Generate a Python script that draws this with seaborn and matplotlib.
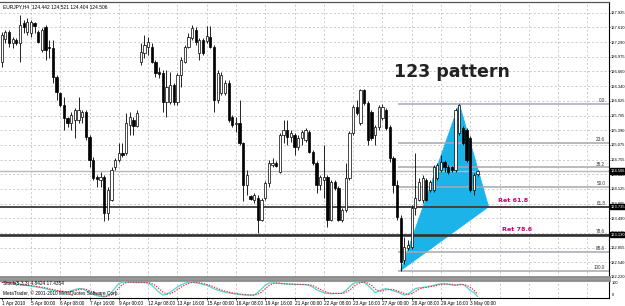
import numpy as np
import pandas as pd
import matplotlib
matplotlib.use("Agg")
import matplotlib.pyplot as plt
import matplotlib.transforms as mtransforms
import seaborn as sns

sns.set_theme(style="white")
plt.rcParams['font.family'] = ['Liberation Sans', 'DejaVu Sans']

# ---------------- data (EURJPY H4) ----------------
opens = [
    126.87, 127.36, 127.51, 127.28, 127.34, 127.28, 127.71, 127.51, 127.49, 127.71,
    127.51, 127.12, 127.62, 127.19, 127.17, 126.54, 126.20, 125.93, 125.65, 125.55,
    125.61, 125.61, 125.68, 125.79, 125.25, 124.75, 124.38, 124.32, 124.38, 123.61,
    123.89, 124.60, 124.75, 124.90, 124.90, 125.50, 125.61, 125.48, 126.87, 127.06,
    127.19, 127.19, 126.87, 126.65, 126.63, 126.00, 126.00, 126.36, 126.00, 126.58,
    126.87, 127.19, 127.38, 127.55, 127.06, 127.34, 127.32, 127.40, 127.19, 126.04,
    126.20, 126.20, 126.41, 125.68, 125.53, 125.55, 125.12, 124.21, 123.97, 123.89,
    123.93, 123.46, 123.93, 124.25, 124.64, 124.68, 124.49, 125.29, 125.40, 125.25,
    125.29, 125.03, 125.22, 125.18, 125.36, 124.92, 124.68, 124.21, 124.32, 124.38,
    123.46, 124.27, 124.14, 123.46, 123.67, 124.36, 125.33, 125.89, 125.55, 126.26,
    125.98, 125.79, 125.29, 125.46, 125.65, 125.83, 125.46, 124.79, 124.21, 123.50,
    122.59, 122.85, 122.87, 123.71, 123.89, 123.89, 124.32, 124.10, 124.10, 124.36,
    124.53, 124.71, 124.60, 124.60, 124.53, 125.33, 125.44, 125.40, 125.22, 124.10,
    124.442]
highs = [
    127.51, 127.55, 127.55, 127.40, 127.38, 127.87, 127.77, 127.81, 127.77, 127.73,
    127.55, 127.60, 127.66, 127.34, 127.34, 126.58, 126.22, 126.11, 125.67, 125.79,
    125.87, 126.11, 125.83, 125.83, 125.29, 124.81, 124.42, 124.49, 124.42, 124.17,
    124.60, 124.79, 125.12, 125.12, 125.76, 125.79, 125.68, 125.83, 127.28, 127.44,
    127.40, 127.28, 126.91, 126.76, 126.69, 126.69, 126.65, 126.41, 126.63, 126.97,
    127.23, 127.49, 127.66, 127.62, 127.38, 127.38, 127.64, 127.64, 127.23, 126.69,
    126.65, 126.47, 126.47, 125.72, 125.68, 126.04, 125.14, 124.53, 123.99, 124.04,
    123.99, 123.93, 124.30, 124.75, 124.79, 124.73, 125.33, 125.61, 125.61, 125.40,
    125.33, 125.29, 125.40, 125.44, 125.40, 124.96, 124.73, 124.42, 125.07, 124.42,
    124.32, 124.32, 124.19, 123.72, 124.68, 125.38, 125.93, 126.04, 126.28, 126.28,
    126.02, 125.83, 125.50, 125.93, 125.96, 125.87, 125.50, 124.83, 124.32, 123.56,
    123.09, 123.02, 123.78, 124.90, 124.36, 124.42, 124.36, 124.32, 124.64, 124.68,
    124.85, 124.75, 124.64, 124.62, 125.87, 125.96, 125.48, 125.44, 125.27, 124.47,
    124.521]
lows = [
    126.76, 127.28, 127.19, 127.17, 127.23, 126.87, 127.49, 127.44, 127.40, 127.49,
    127.28, 127.08, 126.91, 126.95, 126.41, 126.04, 125.89, 125.40, 125.46, 125.40,
    125.23, 125.55, 125.55, 125.18, 124.60, 124.32, 124.17, 124.17, 123.42, 123.46,
    123.85, 124.53, 124.71, 124.81, 124.85, 125.29, 125.29, 125.46, 126.80, 126.95,
    127.01, 126.85, 126.54, 126.52, 125.79, 125.68, 125.96, 125.93, 125.93, 126.32,
    126.85, 127.17, 127.34, 127.23, 126.91, 127.01, 127.28, 127.17, 125.79, 125.98,
    126.15, 126.15, 125.57, 125.46, 125.36, 125.07, 123.85, 123.99, 123.89, 123.82,
    123.18, 123.42, 123.89, 124.17, 124.60, 124.60, 124.47, 125.12, 125.07, 125.14,
    124.85, 124.96, 125.07, 125.14, 124.90, 124.64, 124.04, 124.10, 123.93, 123.31,
    123.42, 124.10, 123.42, 123.40, 123.63, 124.32, 125.29, 125.72, 125.50, 125.93,
    125.07, 125.18, 125.07, 125.40, 125.61, 125.40, 124.71, 124.04, 123.46, 122.36,
    122.49, 122.81, 122.83, 123.56, 123.85, 123.82, 123.85, 124.06, 124.06, 124.32,
    124.49, 124.49, 124.45, 124.49, 124.49, 125.29, 125.07, 124.71, 124.06, 123.99,
    124.404]
closes = [
    127.44, 127.51, 127.28, 127.36, 127.28, 127.66, 127.62, 127.73, 127.73, 127.64,
    127.30, 127.55, 127.12, 127.17, 126.54, 126.22, 125.93, 125.65, 125.55, 125.72,
    125.83, 125.83, 125.79, 125.25, 124.75, 124.36, 124.34, 124.38, 123.61, 124.10,
    124.53, 124.75, 124.90, 124.85, 125.55, 125.68, 125.48, 125.76, 127.08, 127.23,
    127.30, 126.87, 126.63, 126.60, 126.00, 126.32, 126.36, 126.00, 126.58, 126.91,
    127.19, 127.40, 127.60, 127.30, 127.34, 127.06, 127.42, 127.19, 126.04, 126.63,
    126.58, 126.41, 125.61, 125.50, 125.55, 125.12, 124.21, 124.42, 123.91, 123.99,
    123.46, 123.89, 124.25, 124.68, 124.68, 124.62, 125.29, 125.40, 125.25, 125.33,
    125.03, 125.22, 125.36, 125.40, 124.92, 124.68, 124.21, 124.38, 124.38, 123.46,
    124.27, 124.14, 123.46, 123.67, 124.36, 125.33, 125.89, 125.76, 126.26, 125.98,
    125.18, 125.22, 125.46, 125.89, 125.89, 125.44, 124.79, 124.21, 123.52, 122.55,
    122.87, 122.91, 123.71, 123.93, 124.27, 124.36, 123.89, 124.27, 124.60, 124.64,
    124.71, 124.60, 124.49, 124.53, 125.83, 125.93, 125.12, 124.75, 124.10, 124.42,
    124.506]

stoch_main = [
    88, 87, 84, 80, 75, 72, 70, 68, 65, 62,
    58, 55, 50, 45, 40, 37, 35, 33, 32, 38,
    45, 51, 50, 40, 28, 18, 10, 6, 4, 12,
    30, 55, 80, 88, 88, 87, 86, 85, 86, 85,
    83, 70, 50, 30, 14, 18, 30, 45, 60, 72,
    82, 87, 88, 85, 80, 75, 70, 60, 50, 42,
    36, 30, 26, 23, 20, 17, 15, 14, 14, 14,
    30, 50, 70, 83, 84, 82, 80, 78, 77, 76,
    75, 75, 74, 73, 70, 60, 45, 35, 28, 23,
    22, 23, 23, 24, 40, 60, 80, 88, 88, 87,
    70, 50, 28, 35, 45, 51, 45, 38, 32, 22,
    14, 18, 35, 51, 55, 58, 60, 65, 70, 75,
    79, 78, 75, 72, 70, 75, 75, 60, 40, 28,
    4.84]
stoch_signal = [
    86, 87, 86, 84, 80, 76, 72, 70, 68, 65,
    62, 58, 55, 50, 45, 41, 37, 35, 33, 34,
    38, 45, 49, 47, 39, 29, 19, 11, 7, 7,
    15, 32, 55, 74, 85, 88, 87, 86, 86, 86,
    85, 80, 68, 50, 31, 21, 21, 31, 45, 59,
    71, 80, 86, 87, 84, 80, 75, 68, 60, 51,
    43, 36, 31, 26, 23, 20, 17, 15, 14, 14,
    19, 31, 50, 68, 79, 83, 82, 80, 78, 77,
    76, 75, 75, 74, 72, 68, 58, 47, 36, 29,
    24, 23, 23, 23, 29, 41, 60, 76, 85, 88,
    82, 70, 49, 38, 36, 44, 47, 45, 38, 31,
    23, 18, 22, 35, 47, 55, 58, 61, 65, 70,
    75, 77, 77, 75, 72, 72, 74, 70, 58, 42,
    17.44]

date_labels = ["1 Apr 2010", "5 Apr 00:00", "6 Apr 08:00", "7 Apr 16:00", "9 Apr 00:00",
               "12 Apr 08:00", "13 Apr 16:00", "15 Apr 00:00", "16 Apr 08:00", "19 Apr 16:00",
               "21 Apr 00:00", "22 Apr 08:00", "23 Apr 16:00", "27 Apr 00:00", "28 Apr 08:00",
               "29 Apr 16:00", "3 May 00:00"]
date_label_bars = [0, 8, 16, 24, 32, 40, 48, 56, 64, 72, 80, 88, 96, 104, 112, 120, 128]
grid_bars = [8, 16, 24, 32, 40, 48, 56, 64, 72, 80, 88, 96, 104, 112, 120, 128, 136, 144, 152, 160]
price_tick_labels = ["127.925", "127.610", "127.290", "126.975", "126.660", "126.340", "126.025",
                     "125.705", "125.390", "125.075", "124.755", "124.440", "124.125", "123.805",
                     "123.490", "123.175", "122.855", "122.540", "122.220"]
fib_ratios = [0.0, 23.6, 38.2, 50.0, 61.8, 78.6, 88.6, 100.0]
swing_low_bar = 109
swing_high_bar = 125
pattern_end_bar = 133
fib_start_bar = 108.3

# ---------------- figure ----------------
W, H = 625, 306
fig = plt.figure(figsize=(W / 100, H / 100), dpi=100)
fig.patch.set_facecolor('white')

ax = fig.add_axes([0.0, 1 - 277 / H, 609 / W, (277 - 1.5) / H])
ax2 = fig.add_axes([0.0, 1 - 298 / H, 609 / W, (298 - 279.5) / H])

n = len(closes)
idx = np.arange(n)
df = pd.DataFrame({"bar": idx, "open": opens, "high": highs, "low": lows, "close": closes,
                   "main": stoch_main, "signal": stoch_signal})

xlim = (-0.46, 165.9)
ylim = (122.227, 128.167)

grid_kw = dict(color='#c4c4c4', lw=0.6, ls=(0, (2.5, 2.5)), zorder=0.5)
price_ticks = [float(s) for s in price_tick_labels]
for gb in grid_bars:
    ax.axvline(gb, **grid_kw)
    ax2.axvline(gb, **grid_kw)
for pt in price_ticks:
    ax.axhline(pt, **grid_kw)

# candles
ax.vlines(df["bar"], df["low"], df["high"], color='black', lw=0.6, zorder=3)
bull = df["close"] >= df["open"]
bear = ~bull
body_w = 0.62
hb = (df["close"] - df["open"]).abs().clip(lower=0.012)
ax.bar(df["bar"][bull], hb[bull], bottom=df["open"][bull], width=body_w,
       color='white', edgecolor='black', linewidth=0.5, zorder=4)
ax.bar(df["bar"][bear], hb[bear], bottom=df["close"][bear], width=body_w,
       color='black', edgecolor='black', linewidth=0.5, zorder=4)

# fibonacci
hi = highs[swing_high_bar]
lo = lows[swing_low_bar]
fib_prices = [hi - r / 100 * (hi - lo) for r in fib_ratios]
for r, p in zip(fib_ratios, fib_prices):
    ax.hlines(p, fib_start_bar, xlim[1], color='#a8a6b0', lw=1.1, zorder=2)
    ax.text(164.9, p + 0.015, f"{r:.1f}", ha='right', va='bottom', fontsize=3.3,
            color='#333333', zorder=6)

lvl618 = fib_prices[fib_ratios.index(61.8)]
lvl786 = fib_prices[fib_ratios.index(78.6)]
bid = closes[-1]
ax.axhline(bid, color='#b8b8b8', lw=1.0, zorder=2)
ax.axhline(lvl618, color='#3a3a3a', lw=1.3, zorder=2.2)
ax.axhline(lvl786, color='#303030', lw=1.9, zorder=2.2)

# 123 pattern triangle
tri = np.array([[swing_low_bar, lo], [swing_high_bar, hi], [pattern_end_bar, lvl618]])
ax.fill(tri[:, 0], tri[:, 1], color='#1cb4e8', zorder=1.8, lw=0.6, ec='#1cb4e8')

ax.text(123.0, 126.65, "123 pattern", ha='center', va='center', fontsize=12.5,
        fontweight='bold', color='#222222', family='DejaVu Sans', zorder=7)
ax.text(135.6, 123.87, "Ret 61.8", ha='left', va='center', fontsize=4.6,
        fontweight='bold', color='#cc0077', family='DejaVu Sans', zorder=7)
ax.text(136.7, 123.24, "Ret 78.6", ha='left', va='center', fontsize=4.6,
        fontweight='bold', color='#cc0077', family='DejaVu Sans', zorder=7)

ax.text(0.005, 0.99, "EURJPY,H4  124.442 124.521 124.404 124.506", transform=ax.transAxes,
        ha='left', va='top', fontsize=3.5, color='black', zorder=7)

ax.set_xlim(*xlim)
ax.set_ylim(*ylim)
ax.set_xticks([])
ax.yaxis.tick_right()
ax.set_yticks(price_ticks)
ax.set_yticklabels(price_tick_labels)
ax.tick_params(axis='y', which='both', right=True, length=1.0, width=0.5, pad=0.5,
               labelsize=2.9, colors='black', direction='out')
ax.spines['left'].set_visible(False)
ax.spines['top'].set_color('#555555'); ax.spines['top'].set_linewidth(0.9)
ax.spines['right'].set_color('black'); ax.spines['right'].set_linewidth(0.8)
ax.spines['bottom'].set_color('#8c8c8c'); ax.spines['bottom'].set_linewidth(2.0)

# price boxes
btr = mtransforms.blended_transform_factory(ax.transAxes, ax.transData)
for p in [bid, lvl618, lvl786]:
    ax.text(1.002, p, f"{p:.3f}", transform=btr, ha='left', va='center', fontsize=2.9,
            color='white', clip_on=False, zorder=10,
            bbox=dict(boxstyle='square,pad=0.15', fc='black', ec='black'))

# indicator panel
sns.lineplot(data=df, x="bar", y="main", ax=ax2, color='#4fd6d6', lw=0.9, zorder=3)
sns.lineplot(data=df, x="bar", y="signal", ax=ax2, color='#ff2020', lw=0.8,
             linestyle=(0, (1.2, 1.2)), zorder=4)
ax2.set_xlim(*xlim)
ax2.set_ylim(-3, 103)
ax2.set_xlabel(""); ax2.set_ylabel("")
ax2.set_yticks([])
ax2.set_xticks(date_label_bars)
ax2.set_xticklabels(date_labels)
ax2.tick_params(axis='x', length=1.5, width=0.5, pad=0.8, labelsize=3.4, colors='black',
                direction='out', bottom=True)
for lab in ax2.get_xticklabels():
    lab.set_horizontalalignment('left')
ax2.spines['left'].set_visible(False)
ax2.spines['top'].set_color('#8c8c8c'); ax2.spines['top'].set_linewidth(2.0)
ax2.spines['right'].set_color('black'); ax2.spines['right'].set_linewidth(0.8)
ax2.spines['bottom'].set_color('black'); ax2.spines['bottom'].set_linewidth(0.8)

ax2.text(0.005, 0.80, "Stoch(5,3,3) 4.8424 17.4354", transform=ax2.transAxes,
         ha='left', va='center', fontsize=3.4, color='black', zorder=7)
ax2.text(0.005, 0.27, "MetaTrader, \u00a9 2001-2010 MetaQuotes Software Corp.",
         transform=ax2.transAxes, ha='left', va='center', fontsize=3.4, color='black', zorder=7)
ax2.text(1.005, 0.80, "100", transform=ax2.transAxes, ha='left', va='center',
         fontsize=2.9, color='black', clip_on=False)
ax2.text(1.005, 0.18, "0", transform=ax2.transAxes, ha='left', va='center',
         fontsize=2.9, color='black', clip_on=False)

fig.savefig("out.png", dpi=100, facecolor='white')
